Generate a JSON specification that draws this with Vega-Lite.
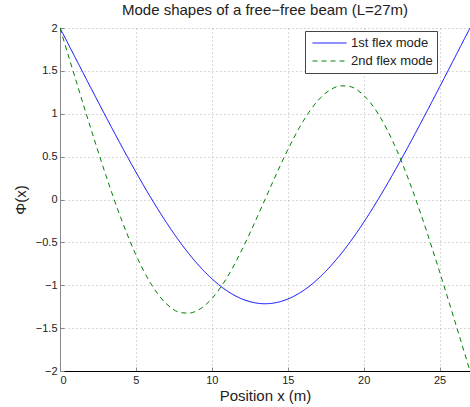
{
  "$schema": "https://vega.github.io/schema/vega-lite/v6.json",
  "width": 410,
  "height": 343,
  "autosize": {"type": "none"},
  "padding": {"left": 60, "top": 28, "right": 0, "bottom": 36},
  "background": "white",
  "title": {"text": "Mode shapes of a free−free beam (L=27m)", "fontSize": 15, "font": "Liberation Sans", "fontWeight": "normal", "color": "#222222", "anchor": "middle", "offset": 4},
  "config": {
    "view": {"stroke": null},
    "font": "Liberation Sans"
  },
  "data": {"values": [
    {"x": 0, "y": 2, "mode": "1st flex mode"},
    {"x": 1, "y": 1.6558, "mode": "1st flex mode"},
    {"x": 2, "y": 1.3127, "mode": "1st flex mode"},
    {"x": 3, "y": 0.9729, "mode": "1st flex mode"},
    {"x": 4, "y": 0.6406, "mode": "1st flex mode"},
    {"x": 5, "y": 0.3195, "mode": "1st flex mode"},
    {"x": 6, "y": 0.0156, "mode": "1st flex mode"},
    {"x": 7, "y": -0.2662, "mode": "1st flex mode"},
    {"x": 8, "y": -0.5206, "mode": "1st flex mode"},
    {"x": 9, "y": -0.7412, "mode": "1st flex mode"},
    {"x": 10, "y": -0.9241, "mode": "1st flex mode"},
    {"x": 11, "y": -1.0652, "mode": "1st flex mode"},
    {"x": 12, "y": -1.1608, "mode": "1st flex mode"},
    {"x": 13, "y": -1.2095, "mode": "1st flex mode"},
    {"x": 13.5, "y": -1.2156, "mode": "1st flex mode"},
    {"x": 14, "y": -1.2095, "mode": "1st flex mode"},
    {"x": 15, "y": -1.1608, "mode": "1st flex mode"},
    {"x": 16, "y": -1.0652, "mode": "1st flex mode"},
    {"x": 17, "y": -0.9241, "mode": "1st flex mode"},
    {"x": 18, "y": -0.7412, "mode": "1st flex mode"},
    {"x": 19, "y": -0.5206, "mode": "1st flex mode"},
    {"x": 20, "y": -0.2662, "mode": "1st flex mode"},
    {"x": 21, "y": 0.0156, "mode": "1st flex mode"},
    {"x": 22, "y": 0.3195, "mode": "1st flex mode"},
    {"x": 23, "y": 0.6406, "mode": "1st flex mode"},
    {"x": 24, "y": 0.9729, "mode": "1st flex mode"},
    {"x": 25, "y": 1.3127, "mode": "1st flex mode"},
    {"x": 26, "y": 1.6558, "mode": "1st flex mode"},
    {"x": 27, "y": 2, "mode": "1st flex mode"},
    {"x": 0, "y": 2, "mode": "2nd flex mode"},
    {"x": 1, "y": 1.4184, "mode": "2nd flex mode"},
    {"x": 2, "y": 0.8441, "mode": "2nd flex mode"},
    {"x": 3, "y": 0.2934, "mode": "2nd flex mode"},
    {"x": 4, "y": -0.2114, "mode": "2nd flex mode"},
    {"x": 5, "y": -0.6457, "mode": "2nd flex mode"},
    {"x": 6, "y": -0.9866, "mode": "2nd flex mode"},
    {"x": 7, "y": -1.2152, "mode": "2nd flex mode"},
    {"x": 8, "y": -1.3206, "mode": "2nd flex mode"},
    {"x": 8.5, "y": -1.3253, "mode": "2nd flex mode"},
    {"x": 9, "y": -1.2988, "mode": "2nd flex mode"},
    {"x": 10, "y": -1.1566, "mode": "2nd flex mode"},
    {"x": 11, "y": -0.9092, "mode": "2nd flex mode"},
    {"x": 12, "y": -0.5801, "mode": "2nd flex mode"},
    {"x": 13, "y": -0.1991, "mode": "2nd flex mode"},
    {"x": 13.5, "y": 0, "mode": "2nd flex mode"},
    {"x": 14, "y": 0.1991, "mode": "2nd flex mode"},
    {"x": 15, "y": 0.5801, "mode": "2nd flex mode"},
    {"x": 16, "y": 0.9092, "mode": "2nd flex mode"},
    {"x": 17, "y": 1.1566, "mode": "2nd flex mode"},
    {"x": 18, "y": 1.2988, "mode": "2nd flex mode"},
    {"x": 18.5, "y": 1.3253, "mode": "2nd flex mode"},
    {"x": 19, "y": 1.3206, "mode": "2nd flex mode"},
    {"x": 20, "y": 1.2152, "mode": "2nd flex mode"},
    {"x": 21, "y": 0.9866, "mode": "2nd flex mode"},
    {"x": 22, "y": 0.6457, "mode": "2nd flex mode"},
    {"x": 23, "y": 0.2114, "mode": "2nd flex mode"},
    {"x": 24, "y": -0.2934, "mode": "2nd flex mode"},
    {"x": 25, "y": -0.8441, "mode": "2nd flex mode"},
    {"x": 26, "y": -1.4184, "mode": "2nd flex mode"},
    {"x": 27, "y": -2, "mode": "2nd flex mode"}
  ]},
  "mark": {"type": "line", "interpolate": "monotone", "strokeWidth": 1, "clip": true},
  "encoding": {
    "x": {
      "field": "x", "type": "quantitative",
      "scale": {"domain": [0, 27], "nice": false, "zero": false},
      "axis": {
        "title": "Position x (m)", "titleFontSize": 15, "titleFontWeight": "normal", "titleColor": "#222222", "titlePadding": 3,
        "values": [0, 5, 10, 15, 20, 25], "format": "d",
        "labelFontSize": 11, "labelColor": "#222222", "labelPadding": 7,
        "grid": true, "gridColor": "#b0b0b0", "gridDash": [1, 3], "gridWidth": 1,
        "domainColor": "#000000", "domainWidth": 1,
        "tickSize": -4, "tickColor": "#888888"
      }
    },
    "y": {
      "field": "y", "type": "quantitative",
      "scale": {"domain": [-2, 2], "nice": false, "zero": false},
      "axis": {
        "title": "Φ(x)", "titleFontSize": 15, "titleFontWeight": "normal", "titleColor": "#222222", "titlePadding": 7,
        "values": [-2, -1.5, -1, -0.5, 0, 0.5, 1, 1.5, 2], "format": "~g",
        "labelFontSize": 11, "labelColor": "#222222", "labelPadding": 7,
        "grid": true, "gridColor": "#b0b0b0", "gridDash": [1, 3], "gridWidth": 1,
        "domainColor": "#888888", "domainWidth": 1,
        "tickSize": -4, "tickColor": "#888888"
      }
    },
    "color": {
      "field": "mode", "type": "nominal",
      "scale": {"domain": ["1st flex mode", "2nd flex mode"], "range": ["#0000ff", "#008000"]},
      "legend": {
        "title": null, "orient": "none", "legendX": 245, "legendY": 3,
        "symbolType": "stroke", "symbolSize": 1156, "symbolStrokeWidth": 1,
        "clipHeight": 16, "rowPadding": 2, "padding": 4, "symbolOffset": 3,
        "labelFontSize": 13, "labelColor": "#222222", "labelOffset": 4,
        "strokeColor": "#444444", "fillColor": "white"
      }
    },
    "strokeDash": {
      "field": "mode", "type": "nominal",
      "scale": {"domain": ["1st flex mode", "2nd flex mode"], "range": [[1, 0], [5, 4]]},
      "legend": null
    }
  }
}
